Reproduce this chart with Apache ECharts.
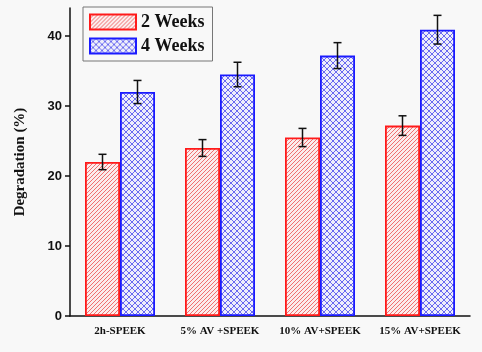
<!DOCTYPE html>
<html><head><meta charset="utf-8">
<script src="https://cdn.jsdelivr.net/npm/echarts@6/dist/echarts.min.js"></script>
<style>html,body{margin:0;padding:0;background:#f8f8f8}#c{width:482px;height:352px}</style>
</head><body><div id="c"></div>
<script>
const categories = ['2h-SPEEK', '5% AV +SPEEK', '10% AV+SPEEK', '15% AV+SPEEK'];
const weeks2 = [22.0, 24.0, 25.5, 27.2];
const weeks2Err = [1.1, 1.2, 1.3, 1.4];
const weeks4 = [32.0, 34.5, 37.2, 40.9];
const weeks4Err = [1.65, 1.75, 1.85, 2.05];
const yTicks = [0, 10, 20, 30, 40];

function hatch() {
  const c = document.createElement('canvas'); c.width = 4; c.height = 4;
  const g = c.getContext('2d');
  g.fillStyle = '#fbecec'; g.fillRect(0, 0, 4, 4);
  g.strokeStyle = '#f07070'; g.lineWidth = 1;
  g.beginPath();
  g.moveTo(-1, 5); g.lineTo(5, -1);
  g.moveTo(-1, 1); g.lineTo(1, -1);
  g.moveTo(3, 5); g.lineTo(5, 3);
  g.stroke();
  return c;
}
function cross() {
  const c = document.createElement('canvas'); c.width = 6; c.height = 6;
  const g = c.getContext('2d');
  g.fillStyle = '#eeeefb'; g.fillRect(0, 0, 6, 6);
  g.strokeStyle = '#6a6af0'; g.lineWidth = 1;
  g.beginPath();
  g.moveTo(0, 0); g.lineTo(6, 6);
  g.moveTo(6, 0); g.lineTo(0, 6);
  g.stroke();
  return c;
}

function errSeries(vals, errs, side) {
  return {
    type: 'custom', z: 5,
    data: vals.map((v, i) => [i, v, errs[i]]),
    renderItem: function (params, api) {
      const idx = api.value(0), v = api.value(1), e = api.value(2);
      const band = api.size([1, 0])[0];
      const bw = band * 0.35;
      const c = api.coord([idx, v]);
      const x = c[0] + side * bw / 2;
      const top = api.coord([idx, v + e])[1];
      const bot = api.coord([idx, v - e])[1];
      const cap = 4;
      const st = { stroke: '#111', lineWidth: 1.5 };
      return { type: 'group', children: [
        { type: 'line', shape: { x1: x, y1: top, x2: x, y2: bot }, style: st },
        { type: 'line', shape: { x1: x - cap, y1: top, x2: x + cap, y2: top }, style: st },
        { type: 'line', shape: { x1: x - cap, y1: bot, x2: x + cap, y2: bot }, style: st }
      ]};
    }
  };
}

const chart = echarts.init(document.getElementById('c'));
chart.setOption({
  backgroundColor: '#f8f8f8',
  animation: false,
  grid: { left: 70, right: 12, top: 8, bottom: 36 },
  legend: {
    left: 83, top: 7, orient: 'vertical',
    data: ['2 Weeks', '4 Weeks'], icon: 'rect',
    itemWidth: 46, itemHeight: 15, itemGap: 6,
    padding: [6, 8, 6, 6],
    borderColor: '#777', borderWidth: 1,
    textStyle: { fontFamily: 'Liberation Serif', fontWeight: 'bold', fontSize: 18, color: '#111' }
  },
  xAxis: {
    type: 'category', data: categories,
    axisLine: { lineStyle: { color: '#111', width: 1.5 } },
    axisTick: { alignWithLabel: true, length: 5, lineStyle: { color: '#111', width: 1.5 } },
    axisLabel: { fontFamily: 'Liberation Serif', fontWeight: 'bold', fontSize: 11, color: '#111', margin: 10, interval: 0 }
  },
  yAxis: {
    type: 'value', min: 0, max: 44, interval: 10,
    name: 'Degradation (%)', nameLocation: 'middle', nameGap: 42,
    nameTextStyle: { fontFamily: 'Liberation Serif', fontWeight: 'bold', fontSize: 15, color: '#111' },
    splitLine: { show: false },
    axisLine: { show: true, lineStyle: { color: '#111', width: 1.5 } },
    axisTick: { show: true, length: 5, customValues: yTicks, lineStyle: { color: '#111', width: 1.5 } },
    axisLabel: { customValues: yTicks, fontFamily: 'Liberation Sans', fontWeight: 'bold', fontSize: 13, color: '#111', margin: 8 }
  },
  series: [
    { name: '2 Weeks', type: 'bar', data: weeks2, barGap: '0%', barCategoryGap: '30%',
      itemStyle: { color: { image: hatch(), repeat: 'repeat' }, borderColor: '#ff1a1a', borderWidth: 1.8 } },
    { name: '4 Weeks', type: 'bar', data: weeks4, barGap: '0%', barCategoryGap: '30%',
      itemStyle: { color: { image: cross(), repeat: 'repeat' }, borderColor: '#1a1aff', borderWidth: 1.8 } },
    errSeries(weeks2, weeks2Err, -1),
    errSeries(weeks4, weeks4Err, 1)
  ]
});
</script></body></html>
